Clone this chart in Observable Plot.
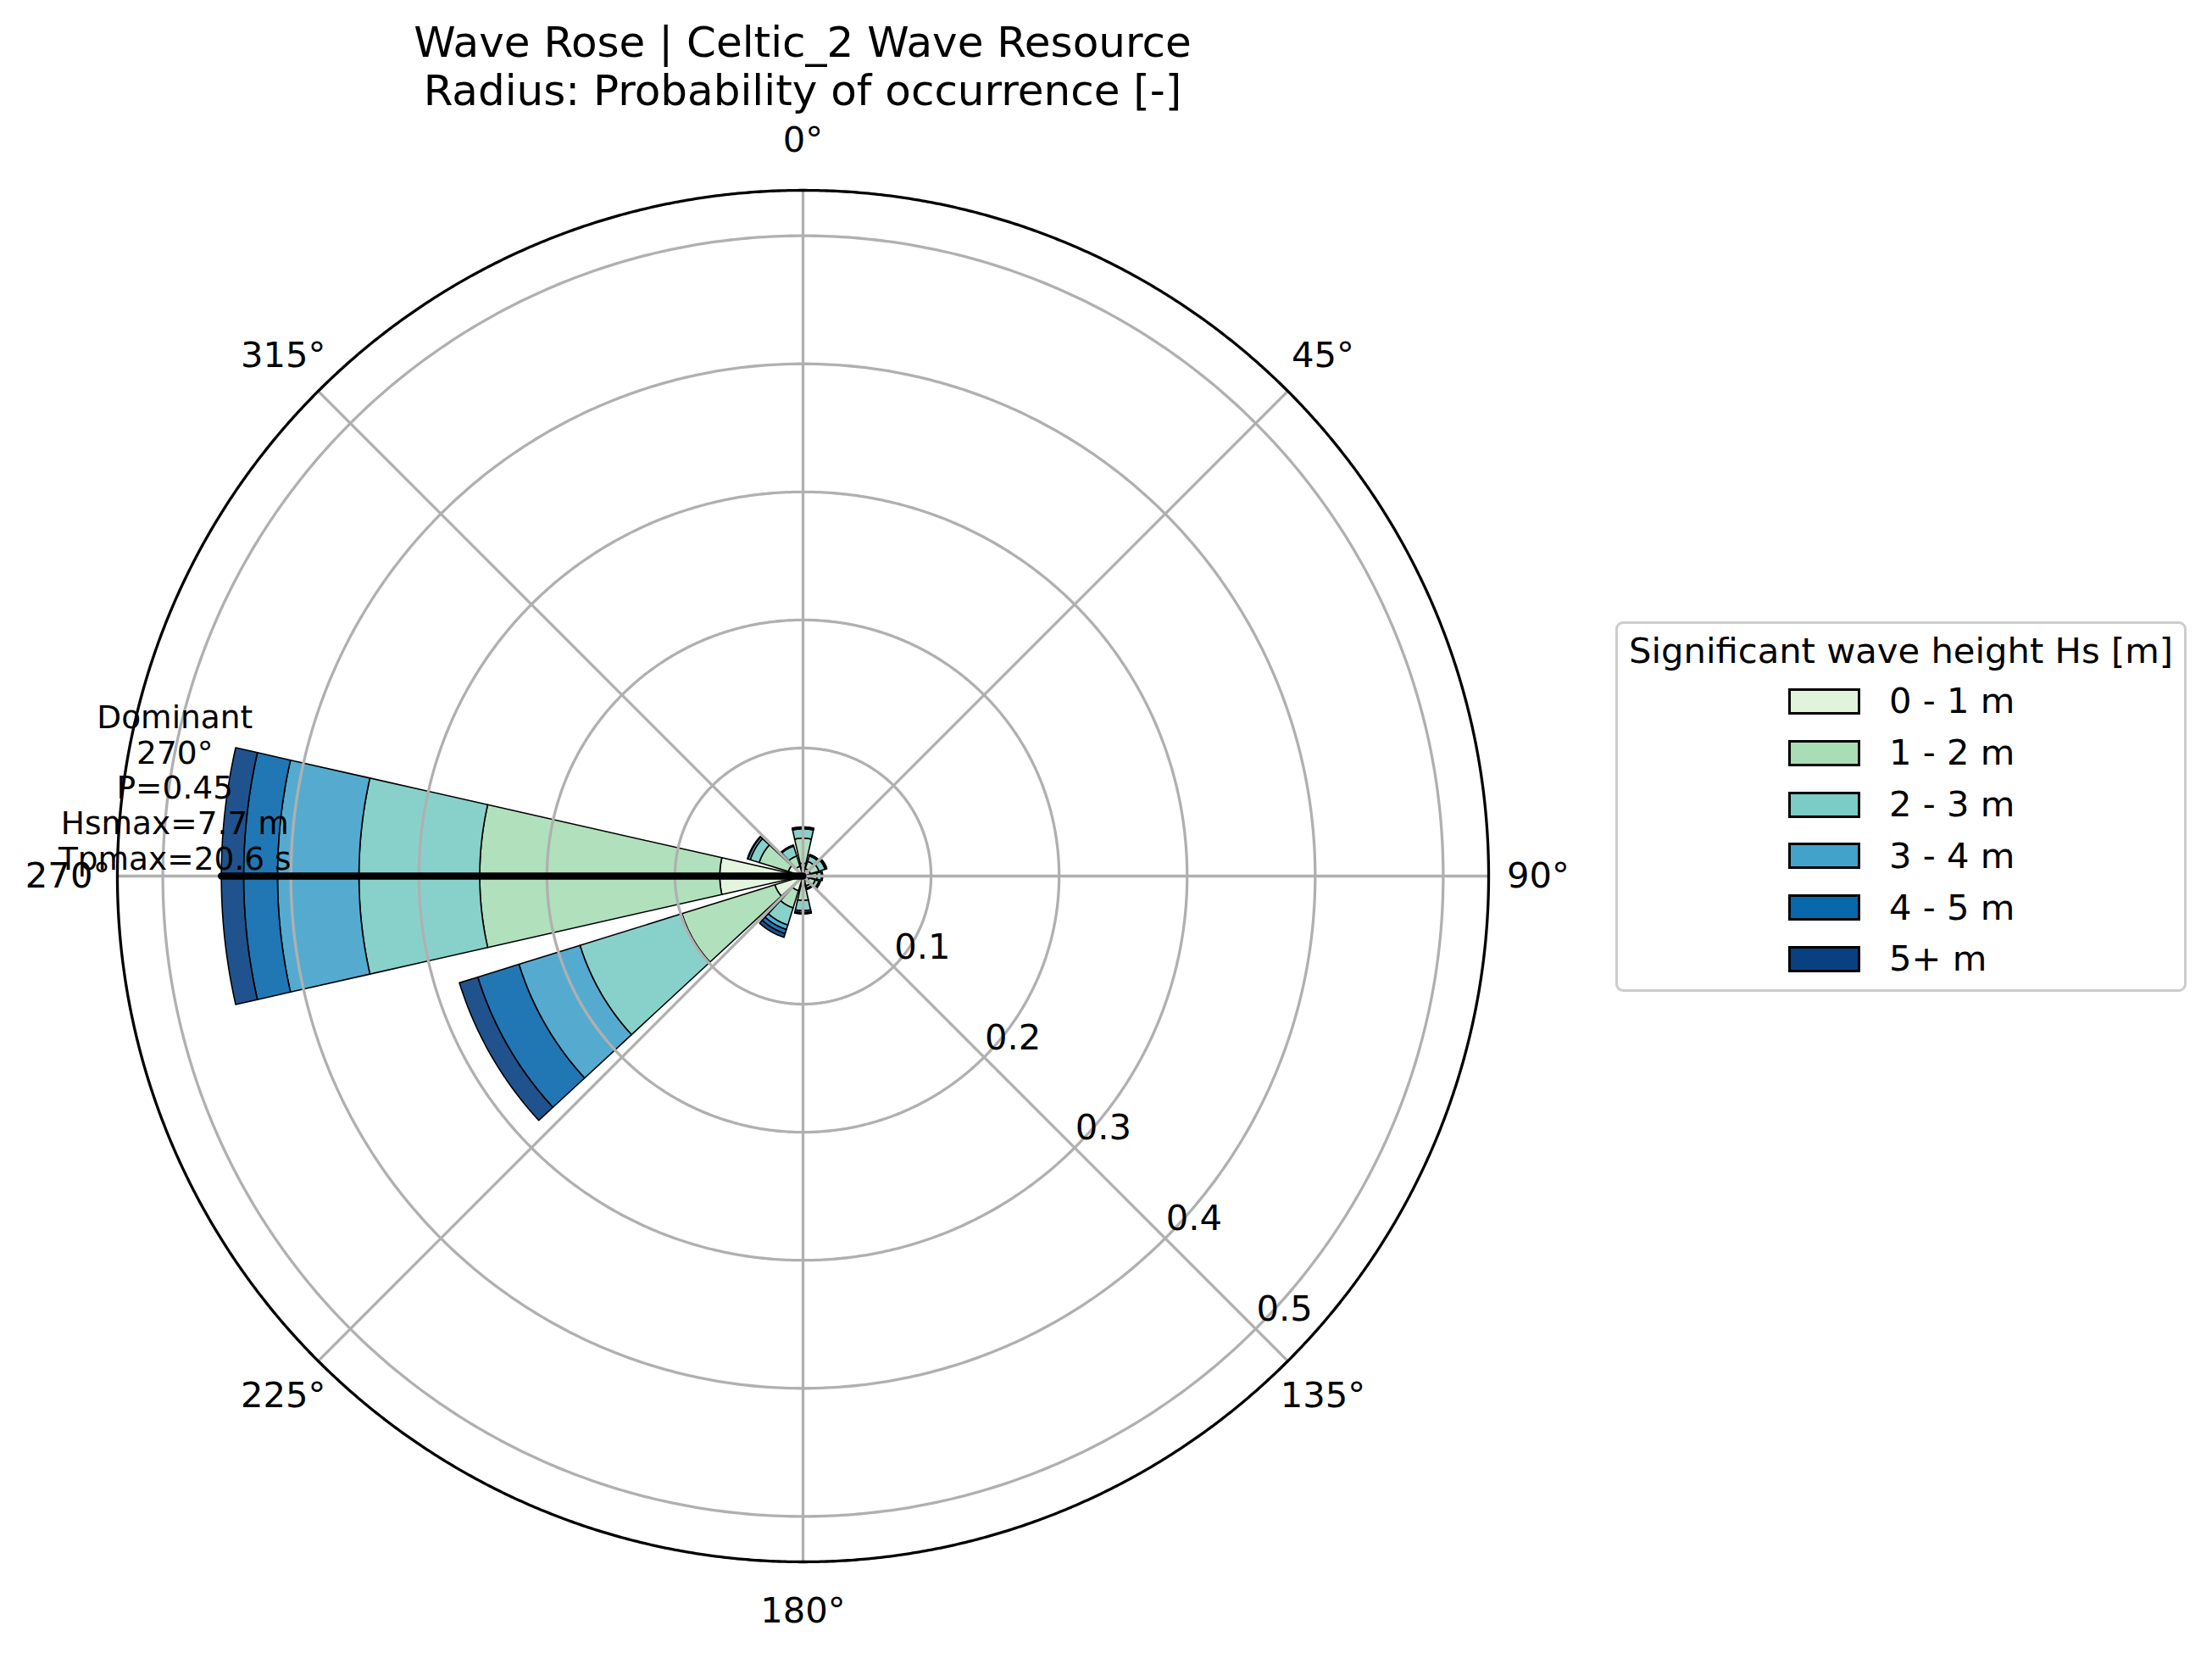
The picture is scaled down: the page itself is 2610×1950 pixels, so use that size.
<!DOCTYPE html>
<html><head><meta charset="utf-8">
<script src="https://cdn.jsdelivr.net/npm/d3@7"></script>
<script src="https://cdn.jsdelivr.net/npm/@observablehq/plot@0.6"></script>
<style>
html,body{margin:0;padding:0;background:#fff;overflow:hidden}
#page{position:relative;width:2610px;height:1950px;font-family:"DejaVu Sans",sans-serif;color:#000;background:#fff}
#title{position:absolute;left:0;width:1894px;top:22px;text-align:center;font-size:50px;line-height:57px;white-space:nowrap;z-index:2}
#chart{position:absolute;left:0;top:0;z-index:1}
#legend{position:absolute;left:1906px;top:733px;width:668px;height:431px;border:3px solid #cccccc;border-radius:9px;background:#fff;z-index:2}
#legend .lt{position:absolute;left:0;width:668px;top:7px;text-align:center;font-size:41.7px;line-height:50px;white-space:nowrap}
#legend .sw{position:absolute;left:201px;width:85px;height:31px;border:3.3px solid #000;box-sizing:border-box}
#legend .lb{position:absolute;left:320px;font-size:41.7px;line-height:50px;white-space:nowrap}
</style></head>
<body><div id="page">
<div id="chart"></div>
<div id="title"></div>
<div id="legend"></div>
</div>
<script>
// ---------------- data ----------------
const titleLines = ["Wave Rose | Celtic_2 Wave Resource", "Radius: Probability of occurrence [-]"];
const legendTitle = "Significant wave height Hs [m]";
const directions = [0, 30, 60, 90, 120, 150, 180, 210, 240, 270, 300, 330];
const bins = ["0 - 1 m", "1 - 2 m", "2 - 3 m", "3 - 4 m", "4 - 5 m", "5+ m"];
const colors = ["#e0f3db", "#a8ddb5", "#7bccc4", "#43a2ca", "#0868ac", "#084081"];
const p_0_1 = [0.010, 0.006, 0.006, 0.005, 0.005, 0.004, 0.008, 0.012, 0.023, 0.065, 0.012, 0.008];
const p_1_2 = [0.0196, 0.006, 0.007, 0.006, 0.005, 0.004, 0.011, 0.014, 0.076, 0.1875, 0.0238, 0.0084];
const p_2_3 = [0.0073, 0.0045, 0.005, 0.0035, 0.003, 0.002, 0.008, 0.014, 0.0834, 0.0943, 0.0073, 0.0081];
const p_3_4 = [0.0008, 0.0007, 0.001, 0.0005, 0.0007, 0.0005, 0.0015, 0.0037, 0.0499, 0.0636, 0.0019, 0.0005];
const p_4_5 = [0.0004, 0.0003, 0.0003, 0.0002, 0.0003, 0.0002, 0.0007, 0.0033, 0.0337, 0.0265, 0.0003, 0.0002];
const p_5p  = [0.0003, 0.0002, 0.0002, 0.0001, 0.0002, 0.0001, 0.0004, 0.0030, 0.0150, 0.0174, 0.0002, 0.0001];
const hsMax = 7.7;
const tpMax = 20.6;
const thetaTicks = [0, 45, 90, 135, 180, 225, 270, 315];
const rTicks = [0.1, 0.2, 0.3, 0.4, 0.5];
const rMax = 0.5355;
const rLabelAngle = 135;
const barWidthDeg = 25.5;

// ---------------- helpers ----------------
const series = [p_0_1, p_1_2, p_2_3, p_3_4, p_4_5, p_5p];
const rad = d => d * Math.PI / 180;
const pol = (r, deg) => [r * Math.sin(rad(deg)), r * Math.cos(rad(deg))];
const arc = (r, a0, a1, n) => d3.range(n + 1).map(i => pol(r, a0 + (a1 - a0) * i / n));

// bars as polygons
const barFeatures = [];
const totals = directions.map((dir, i) => {
  let r0 = 0;
  series.forEach((s, j) => {
    const r1 = r0 + s[i];
    const a0 = dir - barWidthDeg / 2, a1 = dir + barWidthDeg / 2;
    const outer = arc(r1, a0, a1, 60);
    const inner = r0 > 0 ? arc(r0, a1, a0, 60) : [[0, 0]];
    barFeatures.push({type: "Feature", properties: {bin: bins[j], dir},
      geometry: {type: "Polygon", coordinates: [[...outer, ...inner, outer[0]]]}});
    r0 = r1;
  });
  return r0;
});
const domIndex = d3.maxIndex(totals);
const domDir = directions[domIndex];
const domP = totals[domIndex];

const gridCircles = rTicks.map(r => ({type: "LineString", coordinates: arc(r, 0, 360, 720)}));
const gridSpokes = thetaTicks.map(t => ({type: "LineString", coordinates: [[0, 0], pol(rMax, t)]}));
const outerCircle = {type: "LineString", coordinates: arc(rMax, 0, 360, 1440)};
const domain = {type: "Polygon", coordinates: [arc(rMax, 0, 360, 360)]};

const domLine = [{x: 0, y: 0}, {x: pol(domP, domDir)[0], y: pol(domP, domDir)[1]}];
const annot = [{x: pol(domP * 1.08, domDir)[0], y: pol(domP * 1.08, domDir)[1],
  text: `Dominant\n${domDir}°\nP=${domP.toFixed(2)}\nHsmax=${hsMax.toFixed(1)} m\nTpmax=${tpMax.toFixed(1)} s`}];

const rLab = 0.5742;

const chart = Plot.plot({
  width: 1894,
  height: 1950,
  marginLeft: 138,
  marginRight: 138,
  marginTop: 224,
  marginBottom: 108,
  projection: {type: "reflect-y", domain, clip: false},
  color: {type: "ordinal", domain: bins, range: colors},
  style: {fontFamily: "DejaVu Sans", fontSize: "41.7px", background: "transparent", overflow: "visible"},
  marks: [
    Plot.geo(barFeatures, {fill: d => d.properties.bin, fillOpacity: 0.9, stroke: "black", strokeWidth: 1.6}),
    Plot.geo(gridCircles, {stroke: "#b0b0b0", strokeWidth: 3.3}),
    Plot.geo(gridSpokes, {stroke: "#b0b0b0", strokeWidth: 3.3}),
    Plot.line(domLine, {x: "x", y: "y", stroke: "black", strokeWidth: 8.3}),
    Plot.geo([outerCircle], {stroke: "black", strokeWidth: 3.3}),
    Plot.text(thetaTicks, {x: t => pol(rLab, t)[0], y: t => pol(rLab, t)[1], text: t => `${t}°`, fontSize: 41.7, fill: "black"}),
    Plot.text(rTicks, {x: r => pol(r, rLabelAngle)[0], y: r => pol(r, rLabelAngle)[1], text: r => r.toFixed(1), fontSize: 41.7, dx: 34, dy: -23, fill: "black"}),
    Plot.text(annot, {x: "x", y: "y", text: "text", fontSize: 37.5, lineAnchor: "bottom", lineHeight: 1.11, dy: -8, fill: "black"})
  ]
});
document.getElementById("chart").appendChild(chart);

// title
document.getElementById("title").innerHTML = titleLines.join("<br>");

// legend
const lg = d3.select("#legend");
lg.append("div").attr("class", "lt").text(legendTitle);
bins.forEach((b, j) => {
  lg.append("div").attr("class", "sw").style("top", (76 + j * 60.8) + "px").style("background", colors[j]);
  lg.append("div").attr("class", "lb").style("top", (66.3 + j * 60.8) + "px").text(b);
});
</script>
</body></html>
